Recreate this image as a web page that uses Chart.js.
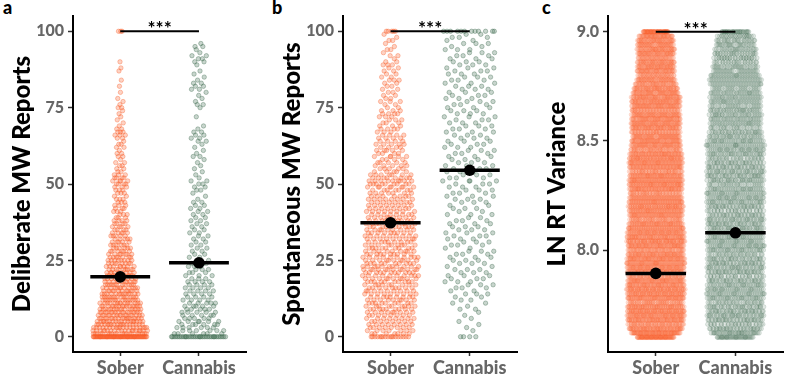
<!DOCTYPE html>
<html><head><meta charset="utf-8">
<script src="https://cdn.jsdelivr.net/npm/chart.js@4.4.1/dist/chart.umd.min.js"></script>
<style>
html,body{margin:0;padding:0;background:#fff;}
body{width:790px;height:375px;overflow:hidden;position:relative;font-family:Lato,sans-serif;}
canvas{position:absolute;top:0;}
.plab{position:absolute;top:-3px;font:900 18px Lato,sans-serif;color:#000;line-height:1.2;}
</style></head><body>
<div class="plab" style="left:3px">a</div>
<div class="plab" style="left:272px">b</div>
<div class="plab" style="left:542px">c</div>
<canvas id="ca" width="252" height="375" style="left:0px"></canvas>
<canvas id="cb" width="253" height="375" style="left:270px"></canvas>
<canvas id="cc" width="254" height="375" style="left:535px"></canvas>
<script>
// ---------- DATA ----------
const categories = ['Sober', 'Cannabis'];

// percentage levels 0..100 for panels a and b (bin positions)
const reportLevels = [];
for (let v = 0; v <= 100; v++) reportLevels.push(v);

// number of reports at each level (0..100)
const deliberateSober = [70,
  20,19,19,18,18, 17,16,16,15,15, 14,14,13,13,12, 12,11,11,10,10,
  9,9,8,8,8, 7,7,6,6,6, 5,5,5,5,4, 4,4,4,3,3,
  3,3,3,3,3, 2,3,3,3,4, 4,4,3,2,2, 2,2,1,2,2,
  1,2,2,1,2, 3,3,2,1,1, 1,1,1,1,2, 1,1,1,0,1,
  0,1,0,1,0, 0,1,1,0,1, 0,0,0,0,0, 0,0,0,0, 3];
const deliberateCannabis = [35,
  6,6,6,6,6, 5,5,5,5,5, 5,4,4,4,4, 4,4,4,3,3,
  3,3,3,3,2, 2,2,2,2,2, 2,2,2,2,2, 2,2,2,2,2,
  2,2,2,2,1, 1,1,2,2,2, 2,1,1,1,1, 1,1,1,2,1,
  1,1,1,2,2, 2,2,1,1,0, 0,1,0,0,1, 2,1,1,1,1,
  2,2,2,1,1, 1,1,0,1,2, 2,2,1,1,2, 1,0,0,0, 0];
const spontaneousSober = [18,
  7,7,8,8,8, 8,8,9,9,9, 9,9,9,9,9, 9,9,10,10,10,
  11,12,11,10,10, 10,10,9,9,9, 9,9,9,9,9, 9,9,9,9,8,
  8,8,8,8,8, 7,7,7,8,9, 9,8,7,5,5, 5,5,4,5,4,
  5,4,5,4,4, 4,3,4,3,3, 3,3,4,3,2, 2,3,2,2,2,
  2,2,2,3,2, 2,2,2,3,2, 1,2,1,2,1, 1,2,1,1, 5];
const spontaneousCannabis = [4,
  0,1,1,1,1, 1,1,1,2,1, 2,2,2,3,2, 3,3,3,3,3,
  3,3,2,3,3, 3,3,3,2,3, 3,3,3,3,3, 3,3,3,2,3,
  2,3,2,3,3, 3,3,3,3,3, 4,3,3,3,3, 3,3,3,3,3,
  3,3,3,3,3, 3,3,3,3,3, 3,3,3,3,3, 3,3,3,3,3,
  3,3,3,3,3, 3,3,3,3,3, 3,3,3,3,2, 3,2,3,2, 12];

// LN RT variance levels 7.60..9.00 in steps of 0.02 (bin positions)
const rtLevels = [];
for (let i = 0; i <= 70; i++) rtLevels.push(+(7.6 + 0.02 * i).toFixed(2));
const rtSober = [
  70,72,68,56,71,70,72,69,54,70, 71,72,68,70,55,71,70,69,72,68, 56,70,71,69,70,
  66,67,52,66,65,67,66,64,51,66, 67,65,66,52,65,67,66,65,52,
  60,61,59,50,60,61,59,60,49,60, 61,59,
  57,54,
  46,47,38,46,47,45,38,46,45,
  44,44,45,54];
const rtCannabis = [
  36,37,35,29,36,37,36,35,30,36, 37,36,35,36,29,37,36,36,35,30, 36,37,36,35,29,
  36,37,36,35,30,36,36,37,36,35, 29,36,37,36,36,35,30,36,37,36,36,
  33,33,27,33,32,33,33,28,33,32, 33,27,33,33,33,
  28,28,24,28,27,
  25,25,24,25,30];

const deliberateMeans = [19.6, 24.2];
const spontaneousMeans = [37.3, 54.5];
const rtMeans = [7.893, 8.079];

const reportTicks = [0, 25, 50, 75, 100];
const reportTickLabels = ['0', '25', '50', '75', '100'];
const rtTicks = [8.0, 8.5, 9.0];
const rtTickLabels = ['8.0', '8.5', '9.0'];

const sigText = '***';

// ---------- STYLE ----------
const baseColors = ['248,92,40', '58,104,76'];
const FONT = 'Lato';
const W = 900;

// ---------- quasirandom (van der Corput) swarm layout ----------
function vdc(n) {
  let v = 0, d = 1;
  while (n > 0) { d *= 2; v += (n & 1) / d; n >>= 1; }
  return v;
}
function swarm(levels, counts, center, bw, power, halfWidth) {
  const dens = levels.map(y => {
    let s = 0;
    for (let j = 0; j < levels.length; j++) {
      if (!counts[j]) continue;
      const z = (y - levels[j]) / bw;
      s += counts[j] * Math.exp(-0.5 * z * z);
    }
    return s;
  });
  let dmax = 0;
  levels.forEach((y, i) => { if (counts[i] > 0 && dens[i] > dmax) dmax = dens[i]; });
  const pts = [];
  let rank = 0;
  levels.forEach((y, i) => {
    const w = halfWidth * Math.pow(dens[i] / dmax, power);
    for (let k = 0; k < counts[i]; k++) {
      rank++;
      pts.push({ x: center + (vdc(rank) - 0.5) * 2 * w, y: y });
    }
  });
  return pts;
}

const panels = [
  { id: 'ca', title: 'Deliberate MW Reports', levels: reportLevels, counts: [deliberateSober, deliberateCannabis],
    means: deliberateMeans, min: -5, max: 105, ticks: reportTicks, tickLabels: reportTickLabels, sig: 100,
    bw: 2, power: 0.7, fillA: 0.28, lineA: 0.45 },
  { id: 'cb', title: 'Spontaneous MW Reports', levels: reportLevels, counts: [spontaneousSober, spontaneousCannabis],
    means: spontaneousMeans, min: -5, max: 105, ticks: reportTicks, tickLabels: reportTickLabels, sig: 100,
    bw: 2, power: 0.7, fillA: 0.28, lineA: 0.45 },
  { id: 'cc', title: 'LN RT Variance', levels: rtLevels, counts: [rtSober, rtCannabis],
    means: rtMeans, min: 7.533, max: 9.072, ticks: rtTicks, tickLabels: rtTickLabels, sig: 9.0,
    bw: 0.03, power: 1, fillA: 0.15, lineA: 0.2 }
];

const sigPlugin = {
  id: 'sigText',
  afterDatasetsDraw(chart, args, opts) {
    const ctx = chart.ctx;
    const xs = chart.scales.x, ys = chart.scales.y;
    ctx.save();
    ctx.fillStyle = '#000';
    ctx.font = 'bold 19px ' + FONT + ', sans-serif';
    ctx.textAlign = 'center';
    ctx.textBaseline = 'alphabetic';
    ctx.fillText(sigText, xs.getPixelForValue(1.5), ys.getPixelForValue(opts.level) + 4);
    ctx.restore();
  }
};

panels.forEach(p => {
  const datasets = [];
  p.means.forEach((m, g) => {
    datasets.push({ type: 'line', data: [{ x: g + 1 - 0.38, y: m }, { x: g + 1 + 0.38, y: m }],
      borderColor: '#000', borderWidth: 3.5, pointRadius: 0, order: 0 });
    datasets.push({ type: 'scatter', data: [{ x: g + 1, y: m }], pointRadius: 5.8,
      backgroundColor: '#000', borderColor: '#000', borderWidth: 0, order: 0 });
  });
  datasets.push({ type: 'line', data: [{ x: 1, y: p.sig }, { x: 2, y: p.sig }],
    borderColor: '#000', borderWidth: 2, pointRadius: 0, order: 1 });
  p.counts.forEach((c, g) => {
    datasets.push({ type: 'scatter', data: swarm(p.levels, c, g + 1, p.bw, p.power, 0.37),
      pointRadius: 2.2, borderWidth: 0.8,
      backgroundColor: 'rgba(' + baseColors[g] + ',' + p.fillA + ')',
      borderColor: 'rgba(' + baseColors[g] + ',' + p.lineA + ')', order: 5 });
  });

  new Chart(document.getElementById(p.id), {
    type: 'scatter',
    data: { datasets },
    plugins: [sigPlugin],
    options: {
      responsive: false, animation: false, devicePixelRatio: 1, events: [],
      layout: { padding: { top: 16, left: 0, right: 0, bottom: 0 } },
      plugins: { legend: { display: false }, tooltip: { enabled: false }, sigText: { level: p.sig } },
      scales: {
        x: {
          type: 'linear', min: 0.4, max: 2.6,
          afterBuildTicks: s => { s.ticks = [{ value: 1 }, { value: 2 }]; },
          afterFit: s => { s.height = 23; },
          ticks: { callback: v => categories[Math.round(v) - 1], font: { family: FONT, weight: W, size: 18 },
            color: '#666', padding: 1, maxRotation: 0, autoSkip: false },
          grid: { display: true, drawOnChartArea: false, drawTicks: true, tickLength: 4, tickColor: '#333', tickWidth: 1.5 },
          border: { display: true, color: '#000', width: 2 }
        },
        y: {
          type: 'linear', min: p.min, max: p.max,
          afterBuildTicks: s => { s.ticks = p.ticks.map(v => ({ value: v })); },
          afterFit: s => { s.width = 73; },
          ticks: { callback: (v) => p.tickLabels[p.ticks.indexOf(v)], font: { family: FONT, weight: W, size: 16 },
            color: '#666', padding: 4, autoSkip: false },
          grid: { display: true, drawOnChartArea: false, drawTicks: true, tickLength: 5, tickColor: '#333', tickWidth: 1.5 },
          border: { display: true, color: '#000', width: 2 },
          title: { display: true, text: p.title, color: '#000', font: { family: FONT, weight: W, size: 24 },
            padding: { top: 8, bottom: 0 } }
        }
      }
    }
  });
});
</script>
</body></html>
